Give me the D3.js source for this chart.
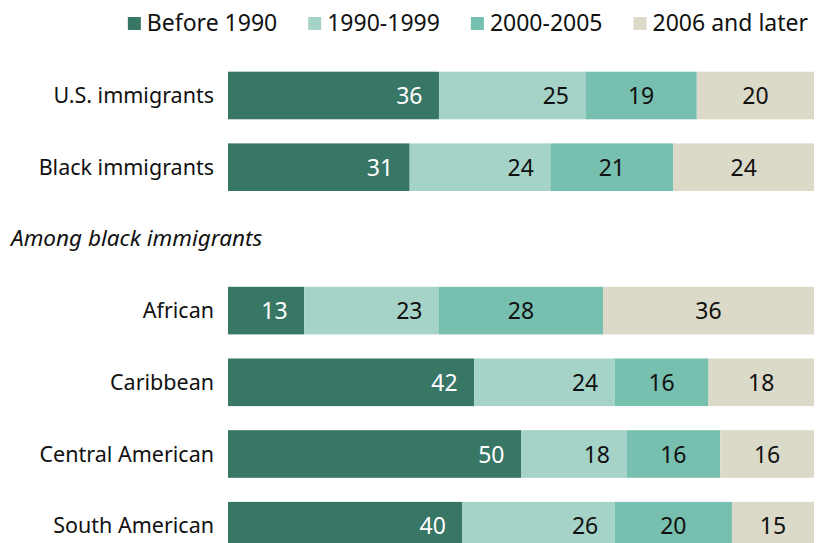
<!DOCTYPE html>
<html>
<head>
<meta charset="utf-8">
<script src="https://cdn.jsdelivr.net/npm/d3@7"></script>
<style>
  body { margin: 0; background: #fff; }
  text { font-family: "Noto Sans", sans-serif; }
</style>
</head>
<body>
<div id="viz"></div>
<script>
// chart data
var periods = ["Before 1990", "1990-1999", "2000-2005", "2006 and later"];
var groupAll = ["U.S. immigrants", "Black immigrants"];
var groupBlack = ["African", "Caribbean", "Central American", "South American"];
var subHeading = "Among black immigrants";
var before1990 = [36, 31, 13, 42, 50, 40];
var y1990s     = [25, 24, 23, 24, 18, 26];
var y2000s     = [19, 21, 28, 16, 16, 20];
var y2006on    = [20, 24, 36, 18, 16, 15];

var colors = ["#387665", "#a5d3c8", "#77bfae", "#dbd9c8"];

var width = 819, height = 543;

var svg = d3.select("#viz").append("svg")
    .attr("width", width)
    .attr("height", height);

var rows = groupAll.concat(groupBlack);
var records = rows.map(function(name, i) {
    return { name: name, values: [before1990[i], y1990s[i], y2000s[i], y2006on[i]] };
});

// one empty slot between the two groups holds the sub heading
var slots = groupAll.concat(["__sub"], groupBlack);

var y = d3.scaleBand()
    .domain(slots)
    .range([59.65, 59.65 + 7 * 71.7])
    .paddingInner(0.336)
    .paddingOuter(0.168);

var x = d3.scaleLinear()
    .domain([0, 100])
    .range([228, 814])
    .clamp(true);

// stack each row
records.forEach(function(r) {
    var acc = 0;
    r.segs = r.values.map(function(v, k) {
        var s = { k: k, v: v, x0: acc, x1: acc + v };
        acc += v;
        return s;
    });
});

var row = svg.append("g").selectAll("g")
    .data(records).enter()
    .append("g")
    .attr("transform", function(d) { return "translate(0," + y(d.name) + ")"; });

row.append("text")
    .attr("x", 214)
    .attr("y", y.bandwidth() / 2)
    .attr("dy", "0.35em")
    .attr("text-anchor", "end")
    .style("font-size", "21.5px")
    .attr("fill", "#111")
    .text(function(d) { return d.name; });

var seg = row.selectAll("g.seg")
    .data(function(d) { return d.segs; }).enter()
    .append("g").attr("class", "seg");

seg.append("rect")
    .attr("x", function(d) { return x(d.x0); })
    .attr("width", function(d) { return x(d.x1) - x(d.x0); })
    .attr("height", y.bandwidth())
    .attr("fill", function(d) { return colors[d.k]; });

seg.append("text")
    .attr("x", function(d) {
        if (d.k < 2) return x(d.x1) - 16.5;
        return (x(d.x0) + x(d.x1)) / 2;
    })
    .attr("y", y.bandwidth() / 2)
    .attr("dy", "0.37em")
    .attr("text-anchor", function(d) { return d.k < 2 ? "end" : "middle"; })
    .attr("fill", function(d) { return d.k === 0 ? "#fff" : "#111"; })
    .style("font-size", "23px")
    .text(function(d) { return d.v; });

// sub heading
svg.append("text")
    .attr("x", 11)
    .attr("y", 246)
    .style("font-size", "22.5px")
    .style("font-style", "italic")
    .attr("fill", "#111")
    .text(subHeading);

// legend, right aligned
var legend = svg.append("g");
var items = legend.selectAll("g")
    .data(periods).enter()
    .append("g");
items.append("rect")
    .attr("width", 13).attr("height", 13)
    .attr("y", 17)
    .attr("fill", function(d, i) { return colors[i]; });
items.append("text")
    .attr("x", 19)
    .attr("y", 30.5)
    .style("font-size", "23px")
    .attr("fill", "#111")
    .text(function(d) { return d; });

var gap = 31;
var pos = 0;
items.each(function() {
    var w = d3.select(this).select("text").node().getComputedTextLength();
    d3.select(this).attr("transform", "translate(" + pos + ",0)");
    pos += 19 + w + gap;
});
pos -= gap;
legend.attr("transform", "translate(" + (808 - pos) + ",0)");
</script>
</body>
</html>
